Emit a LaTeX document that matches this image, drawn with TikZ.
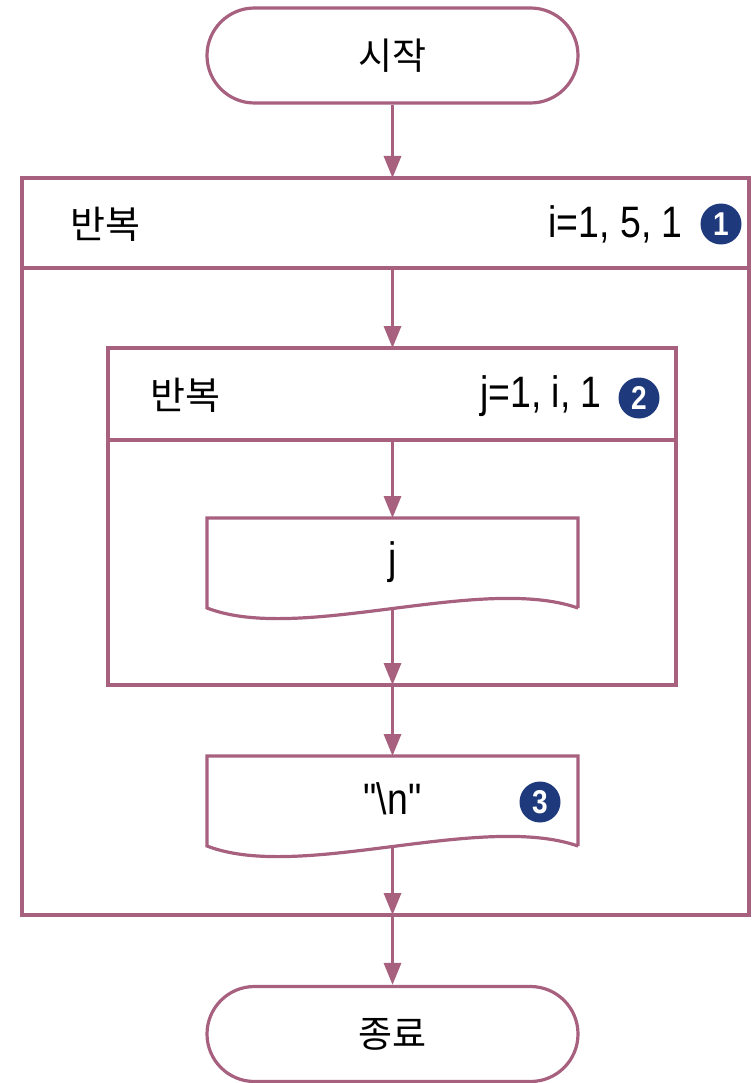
\documentclass[tikz,border=0pt]{standalone}
\usepackage{fontspec}
\setmainfont{Liberation Sans}[FakeStretch=0.85,Ligatures=TeXOff]
\newfontfamily\kr{Noto Sans CJK KR}
\usetikzlibrary{arrows.meta,shapes.misc}
\definecolor{flow}{HTML}{A8607F}
\definecolor{navy}{HTML}{1E3A7C}
\tikzset{
  line/.style={draw=flow,line width=3.2pt},
  conn/.style={line,-{Triangle[length=22pt,width=17pt]}},
  term/.style={rounded rectangle,line,minimum width=371pt,minimum height=95pt,inner sep=0pt,font=\kr\fontsize{37}{37}\selectfont},
  lbl/.style={inner sep=0pt,font=\fontsize{44}{44}\selectfont},
  krlbl/.style={inner sep=0pt,font=\kr\fontsize{38}{38}\selectfont},
  badge/.style={circle,fill=navy,text=white,minimum size=41pt,inner sep=0pt,font=\bfseries\fontsize{33}{33}\selectfont}
}
\begin{document}
\begin{tikzpicture}[x=1pt,y=-1pt]
\useasboundingbox (0,0) rectangle (752,1083);
% terminals
\node[term] (start) at (392.5,55.5) {시작};
\node[term] (end) at (392.5,1034) {종료};
% outer loop
\draw[line] (22,178) rectangle (749,915);
\draw[line] (22,268) -- (749,268);
\coordinate (o-top) at (392.5,178);
\coordinate (o-hb) at (392.5,268);
\coordinate (o-bot) at (392.5,915);
\node[krlbl,anchor=west] (r1) at (70,224) {반복};
\node[lbl,anchor=east] (c1) at (683,224) {i=1, 5, 1};
\node[badge] (b1) at (721,224) {1};
% inner loop
\draw[line] (108,348) rectangle (676,685);
\draw[line] (108,440) -- (676,440);
\coordinate (i-top) at (392.5,348);
\coordinate (i-hb) at (392.5,440);
\coordinate (i-bot) at (392.5,685);
\node[krlbl,anchor=west] (r2) at (150,395) {반복};
\node[lbl,anchor=east] (c2) at (602,396) {j=1, i, 1};
\node[badge] (b2) at (639,398) {2};
% document 1
\draw[line,line join=miter] (578,608) -- (578,518) -- (207,518) -- (207,608)
  .. controls (300,644) and (480,574) .. (578,608);
\coordinate (d1-top) at (392.5,518);
\coordinate (d1-bot) at (392.5,610);
\node[lbl] (d1) at (392.5,562) {j};
% document 2
\draw[line,line join=miter] (578,846) -- (578,756) -- (207,756) -- (207,846)
  .. controls (300,882) and (480,812) .. (578,846);
\coordinate (d2-top) at (392.5,756);
\coordinate (d2-bot) at (392.5,848);
\node[lbl] (d2) at (392.5,799) {"\textbackslash n"};
\node[badge] (b3) at (540,802) {3};
% connectors
\draw[conn] (start.south) -- (o-top);
\draw[conn] (o-hb) -- (i-top);
\draw[conn] (i-hb) -- (d1-top);
\draw[conn] (d1-bot) -- (i-bot);
\draw[conn] (i-bot) -- (d2-top);
\draw[conn] (d2-bot) -- (o-bot);
\draw[conn] (o-bot) -- (end.north);
\end{tikzpicture}
\end{document}
